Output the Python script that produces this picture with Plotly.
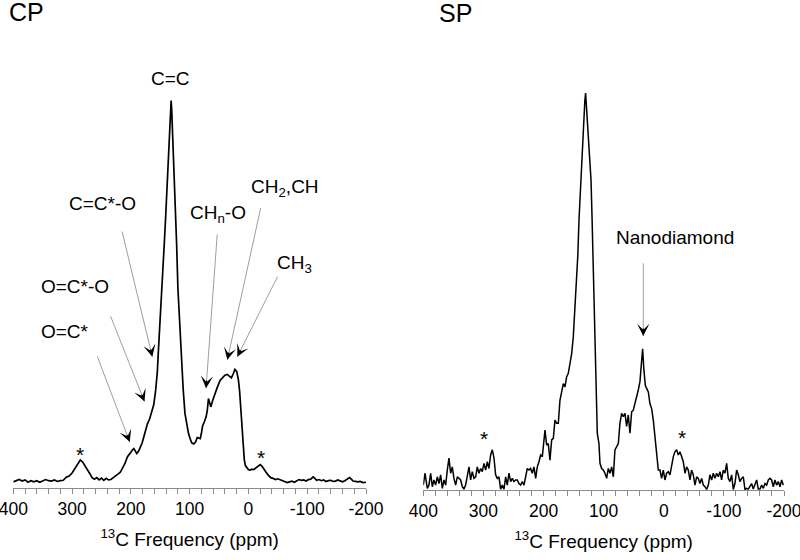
import math
import plotly.graph_objects as go

# ---------------- data ----------------
cp_ppm = [400, 395, 390, 385, 380, 375, 370, 365, 360, 355, 350, 345, 340, 335, 330, 325, 320, 315, 310, 305,
          300, 295, 290, 286, 282, 278, 274, 270, 266, 262, 258, 254, 250, 246, 242, 238, 234, 230, 226, 222,
          218, 214, 210, 206, 203, 200, 197, 195, 192, 190, 187, 184, 181, 178, 175, 172, 168, 164, 161, 158,
          155, 153, 151, 149, 147, 145, 143, 141, 138, 136, 134, 132.5, 131.5, 130.5, 129, 127.5, 126, 124, 122, 120,
          117.5, 115.5, 113.5, 111, 108, 105, 102, 99, 96.5, 93, 90, 87, 85, 82, 80, 78, 75, 72, 70, 68,
          66, 64, 61, 57, 53, 48, 44, 40, 36, 32, 29, 26, 23, 20, 17, 15, 13, 11, 9, 7,
          5, 3, 0, -3, -6, -9, -12, -16, -20, -23, -26, -30, -34, -38, -42, -46, -50, -54, -58, -62,
          -66, -70, -74, -78, -82, -86, -90, -94, -98, -102, -106, -110, -113, -116, -120, -124, -128, -132, -136, -140,
          -144, -148, -152, -156, -160, -164, -168, -172, -175, -178, -182, -186, -190, -195, -200]
cp_intensity = [0.3, 0.6, 0.9, 0.5, 0.8, 0.2, 0.6, 0.3, 0.6, 0.2, 0.5, 0.9, 0.6, 0.5, 0.8, 0.4, 0.6, 0.7, 1.5, 1.8,
                2.6, 3.8, 5.0, 6.0, 5.5, 4.6, 3.6, 2.5, 1.4, 1.0, 1.4, 0.8, 1.3, 0.7, 1.2, 0.8, 0.9, 1.3, 1.8, 2.3,
                2.8, 4.0, 5.1, 6.8, 7.5, 7.9, 8.7, 9.0, 8.2, 7.7, 8.3, 9.3, 10.4, 12.0, 13.8, 15.4, 16.8, 18.6, 20.5, 24.0,
                29.0, 35.0, 40.5, 44.0, 49.0, 55.0, 63.0, 69.0, 79.0, 85.0, 92.0, 97.0, 100.0, 97.5, 92.0, 85.5, 79.0, 70.0, 61.7, 51.0,
                43.4, 36.0, 30.4, 24.5, 18.2, 15.3, 13.0, 11.5, 10.5, 10.2, 10.7, 11.9, 11.7, 11.6, 13.0, 14.9, 16.0, 17.3, 19.0, 22.1,
                21.0, 19.9, 21.5, 23.4, 25.0, 26.9, 27.6, 28.2, 28.4, 27.9, 27.5, 28.5, 29.7, 29.2, 26.9, 24.0, 19.0, 14.0, 9.0, 6.0,
                4.5, 4.0, 3.5, 3.4, 3.6, 3.5, 3.8, 4.2, 4.8, 4.4, 3.6, 2.8, 2.0, 1.4, 1.2, 0.9, 1.1, 0.8, 0.5, 0.3,
                0.1, 0.3, 0.5, 0.2, 0.6, 0.9, 0.7, 0.8, 0.5, 0.9, 1.0, 1.6, 1.2, 0.7, 0.9, 0.6, 0.8, 0.4, 0.6, 0.7,
                0.4, 0.5, 0.8, 0.5, 0.3, 0.6, 0.9, 1.4, 1.0, 0.5, 0.4, 0.3, 0.4, 0.1, 0.2]

sp_ppm = [400.0, 397.2, 393.3, 390.6, 387.8, 385.0, 382.3, 379.5, 376.7, 373.9, 371.2, 368.4, 365.6, 362.8, 360.1,
          357.3, 354.5, 351.8, 349.0, 346.2, 343.4, 340.7, 337.9, 335.1, 332.4, 329.6, 326.8, 324.0, 321.3, 318.5,
          315.7, 312.9, 310.2, 307.4, 304.6, 301.9, 299.1, 296.3, 293.5, 290.8, 288.0, 285.2, 282.4, 279.7, 276.9,
          274.1, 271.4, 268.6, 265.8, 263.0, 260.3, 257.5, 254.7, 251.9, 249.2, 246.4, 243.6, 240.9, 238.1, 235.3,
          232.5, 229.8, 227.0, 224.2, 221.5, 218.7, 215.9, 213.1, 210.4, 207.6, 204.8, 202.0, 199.3, 197.6, 194.8,
          192.1, 189.3, 186.5, 183.7, 181.0, 178.2, 175.4, 172.7, 169.9, 167.1, 164.3, 161.6, 158.8, 156.0, 153.2,
          150.5, 147.7, 145.5, 143.0, 141.0, 138.0, 135.5, 133.0, 131.3, 130.0, 128.7, 126.5, 123.8, 121.0, 119.2,
          117.5, 116.0, 114.4, 112.5, 110.6, 107.8, 106.1, 103.3, 100.6, 97.8, 95.0, 92.3, 89.5, 86.7, 83.9,
          81.2, 78.4, 75.6, 72.9, 70.1, 67.3, 64.5, 61.8, 59.0, 56.2, 53.4, 50.7, 47.9, 45.1, 42.4,
          39.6, 36.8, 35.2, 33.0, 30.7, 28.5, 25.7, 23.0, 20.2, 17.4, 14.6, 11.9, 9.1, 6.3, 3.6,
          0.8, -2.0, -4.8, -7.5, -10.3, -13.1, -15.9, -18.6, -21.4, -24.2, -26.9, -29.7, -32.5, -35.3, -38.0,
          -40.8, -43.6, -46.3, -49.1, -51.9, -54.7, -57.4, -60.2, -63.0, -65.8, -68.5, -71.3, -74.1, -76.8, -79.6,
          -82.4, -85.2, -87.9, -90.7, -93.5, -96.2, -99.0, -101.8, -104.6, -107.3, -110.1, -112.9, -115.7, -118.4, -121.2,
          -124.0, -126.7, -129.5, -132.3, -135.1, -137.8, -140.6, -143.4, -146.1, -148.9, -151.7, -154.5, -157.2, -160.0, -162.8,
          -165.6, -168.3, -171.1, -173.9, -176.7, -179.4, -182.2, -185.0, -187.7, -190.5, -193.3, -196.1, -198.8]
sp_intensity = [1.1, 4.1, 0.3, 1.1, 4.1, 0.7, 2.4, 1.1, 3.2, 1.5, 3.7, 0.3, 2.4, 1.1, 4.9,
                7.9, 4.1, 5.7, 2.8, 1.1, 3.2, 2.8, 2.4, 0.7, 0.1, 1.1, 3.2, 5.7, 2.4, 4.5,
                2.8, 3.2, 5.7, 4.1, 5.3, 4.5, 6.6, 4.9, 7.0, 5.3, 8.7, 10.0, 7.9, 3.7, 2.8,
                3.2, 0.1, 1.1, 0.1, 3.2, 1.1, 4.1, 2.0, 2.8, 2.0, 2.4, 2.4, 1.5, 1.1, 2.0,
                1.1, 3.7, 5.3, 4.9, 5.3, 4.1, 5.7, 2.8, 5.7, 7.0, 8.7, 8.3, 13.7, 15.0, 11.2,
                11.6, 7.4, 12.5, 12.9, 17.5, 16.7, 16.7, 22.5, 25.1, 26.7, 25.9, 28.4, 29.3, 31.8, 34.3,
                38.5, 45.2, 52.5, 59.0, 68.0, 78.0, 86.3, 93.0, 98.0, 100.0, 97.0, 92.0, 86.3, 78.0, 68.0,
                58.0, 50.0, 35.1, 22.0, 14.2, 11.6, 6.6, 5.3, 4.9, 4.1, 2.8, 5.3, 4.1, 5.7, 3.2,
                10.0, 10.8, 11.6, 16.7, 19.2, 18.4, 19.2, 15.9, 18.8, 14.2, 19.6, 20.0, 21.7, 23.0, 25.1,
                27.2, 31.8, 35.5, 30.1, 26.3, 25.5, 24.6, 21.7, 20.4, 17.5, 13.3, 8.3, 4.9, 4.9, 2.8,
                4.9, 2.4, 4.1, 4.5, 3.7, 6.2, 8.3, 9.5, 10.0, 8.7, 9.5, 8.3, 7.0, 4.1, 5.7,
                4.9, 2.4, 4.9, 3.7, 1.1, 3.2, 2.8, 1.5, 2.8, 1.1, 0.7, 0.0, 1.1, 3.7, 2.4,
                4.1, 2.8, 4.1, 3.2, 4.5, 2.4, 4.9, 4.1, 6.6, 2.8, 2.0, 3.7, 0.0, 1.5, 4.9,
                3.7, 2.0, 2.8, 3.2, 0.0, 0.3, 0.1, 0.7, 1.5, 0.1, 1.1, 2.4, 0.1, 0.1, 1.1,
                0.3, 1.5, 1.1, 2.4, 2.8, 2.4, 0.7, 2.4, 1.1, 2.0, 0.7, 2.4, 1.1]

tick_values = [400, 300, 200, 100, 0, -100, -200]
tick_labels = ["400", "300", "200", "100", "0", "-100", "-200"]

# CP labels: (text, ppm, intensity)
cp_labels = [("C=C", 132.5, 105.7), ("C=C*-O", 248.2, 73.0), ("CH<sub>n</sub>-O", 52.5, 70.4),
             ("CH<sub>2</sub>,CH", -62.3, 77.2), ("CH<sub>3</sub>", -78.5, 57.3),
             ("O=C*-O", 295.0, 51.3), ("O=C*", 312.0, 39.5)]
# CP arrow tips (ppm, intensity)
cp_arrow_tips = [(163.5, 33.0), (176.8, 21.3), (201.9, 10.7), (72.1, 24.8), (35.9, 32.2), (18.9, 33.0)]
cp_stars = [(286.5, 7.4), (-21.5, 6.6)]
sp_stars = [(299.0, 12.9), (-30.8, 13.2)]
sp_label = ("Nanodiamond", -18.7, 63.6)
sp_arrow_tip = (34.1, 38.7)

# ---------------- figure ----------------
FONT = "Liberation Sans, Arial, Helvetica, sans-serif"
fig = go.Figure()
fig.add_trace(go.Scatter(x=cp_ppm, y=cp_intensity, mode="lines",
                         line=dict(color="black", width=1.7), xaxis="x", yaxis="y", hoverinfo="skip"))
fig.add_trace(go.Scatter(x=sp_ppm, y=sp_intensity, mode="lines",
                         line=dict(color="black", width=1.5), xaxis="x2", yaxis="y2", hoverinfo="skip"))

def xaxis_style(domain, anchor):
    return dict(domain=domain, anchor=anchor, range=[400, -200], tickmode="array", automargin=False,
                tickvals=tick_values, ticktext=tick_labels, ticks="outside", ticklen=5,
                ticklabeloverflow="allow",
                tickcolor="#8c8c8c", tickwidth=1, showline=True, linecolor="#8c8c8c", linewidth=1,
                showgrid=False, zeroline=False, tickfont=dict(size=17.5, color="black", family=FONT),
                minor=dict(dtick=20, tick0=0, ticks="outside", ticklen=5, tickcolor="#8c8c8c",
                           tickwidth=1, showgrid=False),
                title=dict(text="<sup>13</sup>C Frequency (ppm)", font=dict(size=19, color="black", family=FONT),
                           standoff=14))

ann = []
def label(text, x, y, xref, yref, size=19):
    ann.append(dict(x=x, y=y, xref=xref, yref=yref, text=text, showarrow=False,
                    font=dict(size=size, color="black", family=FONT), xanchor="center", yanchor="middle"))

def arrow(x, y, dx, dy, xref, yref):
    ann.append(dict(x=x, y=y, xref=xref, yref=yref, ax=dx, ay=dy, text="", showarrow=True,
                    arrowhead=0, arrowwidth=1, arrowcolor="#9e9e9e", standoff=0))
    L = math.hypot(dx, dy)
    ann.append(dict(x=x, y=y, xref=xref, yref=yref, ax=dx / L * 9, ay=dy / L * 9, text="", showarrow=True,
                    arrowhead=3, arrowsize=1.7, arrowwidth=1.2, arrowcolor="black", standoff=0))

for t, x, y in cp_labels:
    label(t, x, y, "x", "y")
for x, y in cp_stars:
    label("*", x, y, "x", "y", size=21)
for x, y in sp_stars:
    label("*", x, y, "x2", "y2", size=21)
label(sp_label[0], sp_label[1], sp_label[2], "x2", "y2")

cp_offsets = [(-30.6, -126.7), (-34.5, -86.7), (-33.0, -87.2), (11.3, -155.3), (33.7, -153.3), (41.0, -81.7)]
for (x, y), (dx, dy) in zip(cp_arrow_tips, cp_offsets):
    arrow(x, y, dx, dy, "x", "y")
arrow(sp_arrow_tip[0], sp_arrow_tip[1], 0, -74.3, "x2", "y2")

ann.append(dict(x=7 / 800, y=1 - 12 / 490, xref="paper", yref="paper", text="CP", showarrow=False,
                font=dict(size=25, color="black", family=FONT), xanchor="left", yanchor="middle"))
ann.append(dict(x=437 / 800, y=1 - 13.5 / 490, xref="paper", yref="paper", text="SP", showarrow=False,
                font=dict(size=25, color="black", family=FONT), xanchor="left", yanchor="middle"))

fig.update_layout(
    width=800, height=560, margin=dict(l=0, r=0, t=0, b=70, autoexpand=False),
    paper_bgcolor="white", plot_bgcolor="white", showlegend=False,
    font=dict(family=FONT, color="black"),
    xaxis=xaxis_style([13.3 / 800, 366 / 800], "y"),
    yaxis=dict(domain=[2 / 490, 1], range=[-1.31, 126.3], visible=False, fixedrange=True, automargin=False),
    xaxis2=xaxis_style([423.3 / 800, 784 / 800], "y2"),
    yaxis2=dict(domain=[0, 1], range=[-0.13, 123.5], visible=False, fixedrange=True, automargin=False),
    annotations=ann,
)

fig.write_html("out.html", config={"displayModeBar": False},
               post_script="document.body.style.margin='0px';document.body.style.overflow='hidden';")
